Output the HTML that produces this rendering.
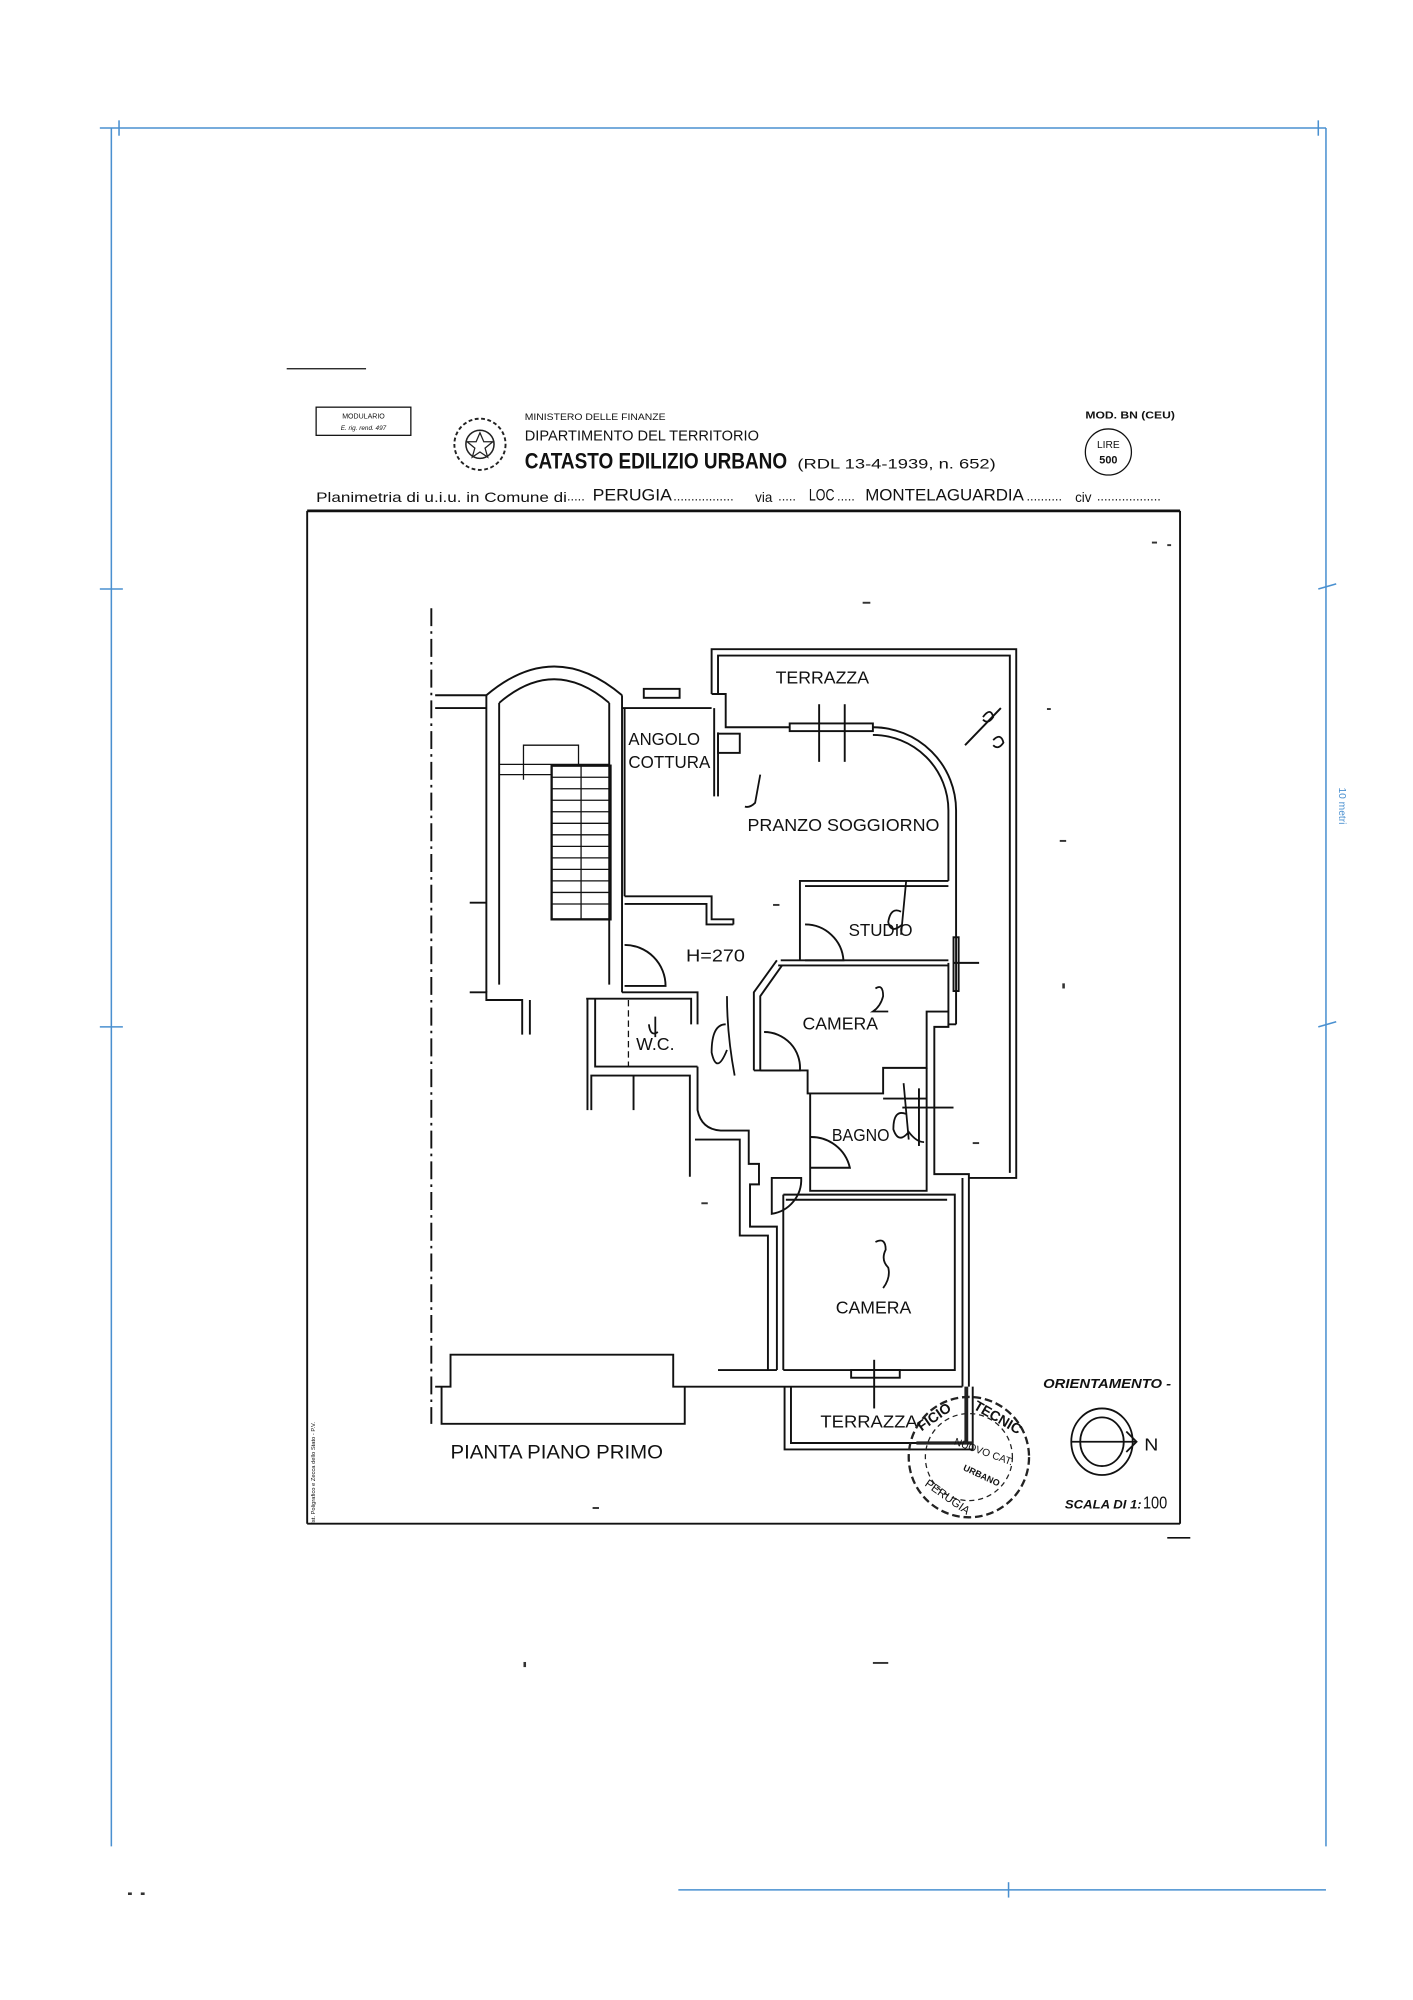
<!DOCTYPE html>
<html><head><meta charset="utf-8"><style>
html,body{margin:0;padding:0;background:#fff;}
svg{display:block;}
text{font-family:"Liberation Sans",sans-serif;fill:#111;}
</style></head><body>
<svg width="1413" height="2000" viewBox="0 0 1104 1562" preserveAspectRatio="none" xmlns="http://www.w3.org/2000/svg">
<rect width="1104" height="1562" fill="#fff"/>
<g stroke="#4a90d0" stroke-width="1.2" fill="none">
<line x1="78" y1="100" x2="1036" y2="100"/>
<line x1="1036" y1="100" x2="1036" y2="1442"/>
<line x1="87" y1="100" x2="87" y2="1442"/>
<line x1="530" y1="1476" x2="1036" y2="1476"/>
<line x1="78" y1="460" x2="96" y2="460"/><line x1="78" y1="802" x2="96" y2="802"/>
<line x1="1030" y1="460" x2="1044" y2="456"/><line x1="1030" y1="802" x2="1044" y2="798"/>
<line x1="93" y1="94" x2="93" y2="106"/><line x1="1030" y1="94" x2="1030" y2="106"/>
<line x1="788" y1="1470" x2="788" y2="1482"/>
</g>
<text x="1046" y="615" font-size="8" style="fill:#4a90d0" transform="rotate(90 1046 615)">10 metri</text>
<line x1="224" y1="288" x2="286" y2="288" stroke="#111" stroke-width="1"/>
<rect x="247" y="318" width="74" height="22" fill="none" stroke="#111" stroke-width="1"/>
<text x="284" y="327" font-size="5.5" text-anchor="middle">MODULARIO</text>
<text x="284" y="336" font-size="5" text-anchor="middle" font-style="italic">E. rig. rend. 497</text>
<circle cx="375" cy="347" r="20" fill="none" stroke="#222" stroke-width="1.5" stroke-dasharray="3 2"/>
<circle cx="375" cy="347" r="11" fill="none" stroke="#222" stroke-width="1.2"/>
<polygon points="375,338 378,345 385,345 379,350 381,357 375,353 369,357 371,350 365,345 372,345" fill="none" stroke="#222" stroke-width="1"/>
<text x="410" y="328" font-size="7" textLength="110" lengthAdjust="spacingAndGlyphs">MINISTERO DELLE FINANZE</text>
<text x="410" y="344" font-size="11.5" textLength="183" lengthAdjust="spacingAndGlyphs">DIPARTIMENTO DEL TERRITORIO</text>
<text x="410" y="366" font-size="17" font-weight="bold" textLength="205" lengthAdjust="spacingAndGlyphs">CATASTO EDILIZIO URBANO</text>
<text x="623" y="366" font-size="11" textLength="155" lengthAdjust="spacingAndGlyphs">(RDL 13-4-1939, n. 652)</text>
<text x="848" y="327" font-size="8" font-weight="bold" textLength="70" lengthAdjust="spacingAndGlyphs">MOD. BN (CEU)</text>
<circle cx="866" cy="353" r="18" fill="none" stroke="#111" stroke-width="1"/>
<text x="866" y="350" font-size="8" text-anchor="middle">LIRE</text>
<text x="866" y="362" font-size="8.5" font-weight="bold" text-anchor="middle">500</text>
<text x="247" y="392" font-size="10.5" textLength="196" lengthAdjust="spacingAndGlyphs">Planimetria di u.i.u. in Comune di</text>
<text x="443" y="391" font-size="10">.....</text>
<text x="463" y="391" font-size="13" textLength="62" lengthAdjust="spacingAndGlyphs">PERUGIA</text>
<text x="526" y="391" font-size="10">.................</text>
<text x="590" y="392" font-size="10.5">via</text>
<text x="608" y="391" font-size="10">.....</text>
<text x="632" y="391" font-size="13" textLength="20" lengthAdjust="spacingAndGlyphs">LOC</text>
<text x="654" y="391" font-size="10">.....</text>
<text x="676" y="391" font-size="13" textLength="124" lengthAdjust="spacingAndGlyphs">MONTELAGUARDIA</text>
<text x="802" y="391" font-size="10">..........</text>
<text x="840" y="392" font-size="10.5">civ</text>
<text x="857" y="391" font-size="10">..................</text>
<g stroke="#111" fill="none">
<line x1="240" y1="399" x2="922" y2="399" stroke-width="2.2"/>
<line x1="240" y1="399" x2="240" y2="1190" stroke-width="1.5"/>
<line x1="922" y1="399" x2="922" y2="1190" stroke-width="1.5"/>
<line x1="240" y1="1190" x2="922" y2="1190" stroke-width="1.5"/>
<line x1="912" y1="1201" x2="930" y2="1201" stroke-width="1.3"/>
</g>
<text x="246" y="1190" font-size="4.5" transform="rotate(-90 246 1190)">Ist. Poligrafico e Zecca dello Stato - P.V.</text>
<g stroke="#111" stroke-width="1.5" fill="none" stroke-linejoin="miter">
<line x1="337" y1="475" x2="337" y2="1112" stroke-dasharray="14 4 2 4"/>
<polyline points="556,542 556,507 794,507 794,920 757,920"/>
<polyline points="561,542 561,512 789,512 789,916"/>
<polyline points="556,542 567,542 567,568 617,568"/>
<path d="M682,568 A65,65 0 0 1 747,633 L747,800"/>
<path d="M682,574 A59,59 0 0 1 741,633 L741,688"/>
<rect x="617" y="565" width="65" height="6"/>
<line x1="640" y1="550" x2="640" y2="595"/><line x1="660" y1="550" x2="660" y2="595"/>
<path d="M754,582 L782,553"/>
<polyline points="747,800 741,800 741,752"/>
<polyline points="741,800 741,802 730,802 730,917 757,917 757,1083"/>
<line x1="752" y1="920" x2="752" y2="1083"/>
<rect x="745" y="732" width="4" height="42"/>
<line x1="745" y1="752" x2="765" y2="752"/>
<path d="M380,543 Q433,498 486,543"/>
<path d="M390,549 Q433,512 476,549"/>
<line x1="380" y1="543" x2="380" y2="775"/><line x1="390" y1="549" x2="390" y2="769"/>
<line x1="476" y1="549" x2="476" y2="769"/><line x1="486" y1="543" x2="486" y2="775"/>
<line x1="340" y1="543" x2="380" y2="543"/><line x1="340" y1="553" x2="380" y2="553"/>
<rect x="431" y="598" width="46" height="120" stroke-width="1.8"/>
<g stroke-width="1">
<line x1="431" y1="607" x2="477" y2="607"/><line x1="431" y1="616" x2="477" y2="616"/><line x1="431" y1="625" x2="477" y2="625"/><line x1="431" y1="634" x2="477" y2="634"/><line x1="431" y1="643" x2="477" y2="643"/><line x1="431" y1="652" x2="477" y2="652"/><line x1="431" y1="661" x2="477" y2="661"/><line x1="431" y1="670" x2="477" y2="670"/><line x1="431" y1="679" x2="477" y2="679"/><line x1="431" y1="688" x2="477" y2="688"/><line x1="431" y1="697" x2="477" y2="697"/><line x1="431" y1="706" x2="477" y2="706"/>
<line x1="454" y1="598" x2="454" y2="718"/>
<polyline points="409,609 409,582 452,582 452,598"/>
<line x1="390" y1="597" x2="476" y2="597"/><line x1="390" y1="605" x2="431" y2="605"/>
</g>
<line x1="367" y1="705" x2="380" y2="705"/>
<line x1="486" y1="553" x2="556" y2="553"/>
<rect x="503" y="538" width="28" height="7"/>
<line x1="558" y1="553" x2="558" y2="622"/><line x1="561" y1="572" x2="561" y2="622"/>
<rect x="561" y="573" width="17" height="15"/>
<line x1="488" y1="553" x2="488" y2="700"/>
<polyline points="488,700 556,700 556,718 573,718 573,722"/>
<polyline points="488,706 552,706 552,722 573,722"/>
<path d="M488,738 A32,32 0 0 1 520,770 L488,770"/>
<polyline points="367,775 380,775 380,781 408,781 408,808"/>
<line x1="414" y1="781" x2="414" y2="808"/>
<polyline points="486,775 545,775 545,800"/>
<polyline points="458,780 540,780 540,800"/>
<polyline points="465,780 465,833 545,833"/>
<line x1="491" y1="781" x2="491" y2="833" stroke-dasharray="5 3" stroke-width="1"/>
<line x1="459" y1="780" x2="459" y2="867"/>
<polyline points="462,867 462,840 539,840 539,919"/>
<line x1="495" y1="840" x2="495" y2="867"/>
<path d="M545,833 L545,867 Q548,882 563,883 L585,883 L585,909 L593,909 L593,925 L586,925 L586,958 L607,958 L607,1070"/>
<polyline points="543,890 578,890 578,965 600,965 600,1070"/>
<line x1="561" y1="1070" x2="607" y2="1070"/>
<polyline points="625,750 625,688 741,688"/>
<line x1="629" y1="692" x2="741" y2="692"/>
<path d="M629,722 A30,30 0 0 1 659,750 L629,750"/>
<line x1="610" y1="750" x2="741" y2="750"/><line x1="608" y1="754" x2="741" y2="754"/>
<polyline points="607,750 589,775 589,836"/>
<polyline points="611,754 594,778 594,836"/>
<path d="M597,806 A28,28 0 0 1 625,836 L594,836"/>
<polyline points="589,836 631,836 631,854 690,854 690,834 724,834 724,790 741,790"/>
<polyline points="633,854 633,930 724,930 724,834"/>
<line x1="690" y1="858" x2="724" y2="858"/>
<path d="M633,888 A31,31 0 0 1 664,912 L633,912"/>
<line x1="705" y1="865" x2="745" y2="865"/>
<line x1="718" y1="850" x2="718" y2="895"/>
<path d="M603,920 L603,948 A27,27 0 0 0 626,920 Z"/>
<polyline points="612,933 746,933 746,1070 612,1070"/>
<line x1="614" y1="937" x2="740" y2="937"/>
<polyline points="612,933 612,1070"/>
<rect x="665" y="1070" width="38" height="6"/>
<line x1="683" y1="1062" x2="683" y2="1100"/>
<polyline points="340,1083 352,1083 352,1058 526,1058 526,1083 752,1083"/>
<polyline points="345,1083 345,1112 535,1112 535,1083"/>
<polyline points="613,1083 613,1132 760,1132 760,1083"/>
<polyline points="618,1083 618,1127 755,1127"/>
</g>
<g font-size="14">
<text x="606" y="534" textLength="73" lengthAdjust="spacingAndGlyphs">TERRAZZA</text>
<text x="491" y="582" textLength="56" lengthAdjust="spacingAndGlyphs">ANGOLO</text>
<text x="491" y="600" textLength="64" lengthAdjust="spacingAndGlyphs">COTTURA</text>
<text x="584" y="649" textLength="150" lengthAdjust="spacingAndGlyphs">PRANZO SOGGIORNO</text>
<text x="663" y="731" textLength="50" lengthAdjust="spacingAndGlyphs">STUDIO</text>
<text x="536" y="751" textLength="46" lengthAdjust="spacingAndGlyphs">H=270</text>
<text x="627" y="804" textLength="59" lengthAdjust="spacingAndGlyphs">CAMERA</text>
<text x="497" y="820" textLength="30" lengthAdjust="spacingAndGlyphs">W.C.</text>
<text x="650" y="891" textLength="45" lengthAdjust="spacingAndGlyphs">BAGNO</text>
<text x="653" y="1026" textLength="59" lengthAdjust="spacingAndGlyphs">CAMERA</text>
<text x="641" y="1115" textLength="76" lengthAdjust="spacingAndGlyphs">TERRAZZA</text>
<text x="352" y="1139" font-size="15" textLength="166" lengthAdjust="spacingAndGlyphs">PIANTA PIANO PRIMO</text>
</g>
<g stroke="#111" stroke-width="1.4" fill="none">
<path d="M594,605 L590,627 Q586,631 582,630"/>
<path d="M708,688 L704,730 M704,712 Q696,708 694,720 Q696,730 705,722"/>
<path d="M684,772 Q690,768 690,778 Q688,786 682,790 L694,790"/>
<path d="M568,778 Q568,808 574,840 M567,800 Q556,800 556,822 Q560,840 568,820"/>
<path d="M706,846 L710,890 M708,870 Q698,866 698,882 Q702,894 710,884 Q716,892 722,892"/>
<path d="M684,970 Q692,966 692,976 Q688,984 694,990 Q696,998 690,1006"/>
<path d="M512,794 L512,810 M507,800 Q508,810 514,806"/>
<path d="M768,560 Q774,552 776,560 Q772,566 768,562"/><path d="M776,578 Q782,572 784,580 Q780,586 776,582"/>
</g>
<g stroke="#222" fill="none">
<circle cx="757" cy="1138" r="47" stroke-width="1.8" stroke-dasharray="6 3"/>
<circle cx="757" cy="1138" r="34" stroke-width="1" stroke-dasharray="4 3"/>
<line x1="755" y1="1083" x2="755" y2="1127" stroke-width="3"/>
<line x1="716" y1="1127" x2="760" y2="1127" stroke-width="2.5"/>
</g>
<text x="720" y="1118" font-size="11" font-weight="bold" transform="rotate(-35 720 1118)">FICIO</text>
<text x="760" y="1100" font-size="11" font-weight="bold" transform="rotate(30 760 1100)">TECNIC</text>
<text x="745" y="1128" font-size="8" transform="rotate(20 745 1128)">NUOVO CAT.</text>
<text x="752" y="1148" font-size="7" font-weight="bold" transform="rotate(25 752 1148)">URBANO</text>
<text x="722" y="1160" font-size="9" transform="rotate(35 722 1160)">PERUGIA</text>
<text x="815" y="1084" font-size="10" font-style="italic" font-weight="bold" textLength="100" lengthAdjust="spacingAndGlyphs">ORIENTAMENTO -</text>
<g stroke="#111" stroke-width="1.4" fill="none">
<ellipse cx="861" cy="1126" rx="24" ry="26"/>
<ellipse cx="861" cy="1126" rx="17" ry="19"/>
<line x1="837" y1="1126" x2="888" y2="1126"/>
<polyline points="880,1118 888,1126 880,1134"/>
</g>
<text x="894" y="1133" font-size="14" textLength="11" lengthAdjust="spacingAndGlyphs">N</text>
<text x="832" y="1178" font-size="9.5" font-style="italic" font-weight="bold" textLength="60" lengthAdjust="spacingAndGlyphs">SCALA DI 1:</text>
<text x="893" y="1178" font-size="14" textLength="19" lengthAdjust="spacingAndGlyphs">100</text>
<g fill="#333">
<rect x="674" y="470" width="6" height="1.5"/><rect x="604" y="706" width="5" height="1.5"/>
<rect x="828" y="656" width="5" height="1.5"/><rect x="760" y="892" width="5" height="1.5"/>
<rect x="548" y="939" width="5" height="1.5"/><rect x="463" y="1177" width="5" height="1.5"/>
<rect x="900" y="423" width="4" height="1.5"/><rect x="912" y="425" width="3" height="1.5"/>
<rect x="818" y="553" width="3" height="1.5"/><rect x="830" y="768" width="2" height="4"/>
<rect x="409" y="1298" width="2" height="4"/><rect x="682" y="1298" width="12" height="1.5"/>
<rect x="100" y="1478" width="3" height="2"/><rect x="110" y="1478" width="3" height="2"/>
</g>
</svg>
</body></html>
